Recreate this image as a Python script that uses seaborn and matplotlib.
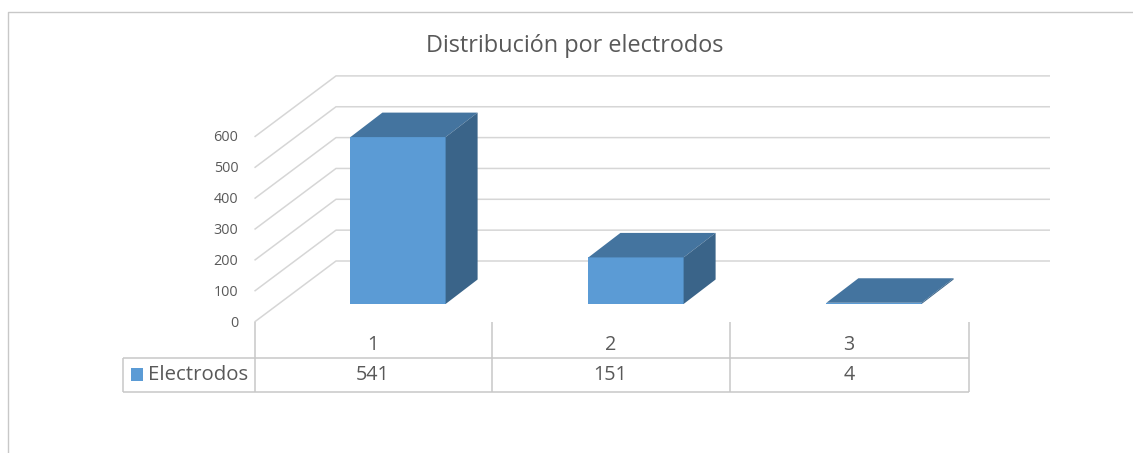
import matplotlib
matplotlib.use("Agg")
import matplotlib.pyplot as plt
from matplotlib.lines import Line2D
from matplotlib.patches import Polygon, Rectangle
from matplotlib.transforms import Affine2D
import pandas as pd
import seaborn as sns

# Chart content
title = "Distribución por electrodos"
series_name = "Electrodos"
categories = ["1", "2", "3"]
electrodos = [541, 151, 4]
y_ticks = [0, 100, 200, 300, 400, 500, 600]

# Colours
FRONT = "#5B9BD5"
TOP = "#44749F"
SIDE = "#3A6489"
GRID = "#D6D6D6"
FRAME = "#C8C8C8"
TEXT = "#595959"

# Layout in pixels
W, H = 1133, 453
PX_PER_UNIT = 30.85 / 100
SLOT = 238.0
BAR_BASE_Y = 304.0
BAR_FIRST_X = 398.0
WALL_FRONT_X, WALL_FRONT_Y = 254.5, 322.0
WALL_DX, WALL_DY = 81.5, -61.0
GRID_END_X = 1050.0
BAR_DX, BAR_DY = 32.0, -24.5
TABLE_LEFT, TABLE_TOP, TABLE_BOTTOM = 122.5, 357.5, 391.5
TABLE_COLS = [254.5, 492.0, 730.0, 968.5]

sns.set_theme(style="white")
plt.rcParams["font.family"] = ["Open Sans", "DejaVu Sans"]

fig = plt.figure(figsize=(W / 100, H / 100), dpi=100, facecolor="white")
ax = fig.add_axes([0, 0, 1, 1])
px = Affine2D().scale(1 / W, -1 / H).translate(0, 1) + fig.transFigure

# The bar axes is aligned so that category 0 and value 0 land on the first bar's base
data = pd.DataFrame({"electrodo": categories, "valor": electrodos})
sns.barplot(data=data, x="electrodo", y="valor", order=categories, color=FRONT,
            saturation=1, width=0.4, ax=ax, zorder=3, linewidth=0)
ax.set_xlim(-BAR_FIRST_X / SLOT, (W - BAR_FIRST_X) / SLOT)
ax.set_ylim((BAR_BASE_Y - H) / PX_PER_UNIT, BAR_BASE_Y / PX_PER_UNIT)
ax.set_axis_off()


def line(xs, ys, color=GRID, lw=1.1, z=1):
    ax.add_line(Line2D(xs, ys, color=color, lw=lw, transform=px, clip_on=False,
                       zorder=z, solid_capstyle="butt"))


# Outer chart frame
line([7.5, 7.5, W], [H, 11.5, 11.5], color=FRAME, lw=1.0)

# Floor and wall gridlines, one per tick
for tick in y_ticks:
    y = WALL_FRONT_Y - tick * PX_PER_UNIT
    line([WALL_FRONT_X, WALL_FRONT_X + WALL_DX, GRID_END_X], [y, y + WALL_DY, y + WALL_DY])
    ax.text(238.5, y + 1.5 - tick / 600, str(tick), transform=px, ha="right", va="center",
            fontsize=10.4, color=TEXT)

# Top and side faces of each bar, extruded from the bar's front face
dx = BAR_DX / SLOT
dy = -BAR_DY / PX_PER_UNIT
for bar in ax.patches[:len(electrodos)]:
    x0, w, h = bar.get_x(), bar.get_width(), bar.get_height()
    x1 = x0 + w
    ax.add_patch(Polygon([(x0, h), (x1, h), (x1 + dx, h + dy), (x0 + dx, h + dy)],
                         closed=True, facecolor=TOP, edgecolor="none", zorder=4))
    ax.add_patch(Polygon([(x1, 0), (x1 + dx, dy), (x1 + dx, h + dy), (x1, h)],
                         closed=True, facecolor=SIDE, edgecolor="none", zorder=4))

# Data table under the plot
line([TABLE_LEFT, TABLE_COLS[-1]], [TABLE_TOP, TABLE_TOP], color=FRAME)
line([TABLE_LEFT, TABLE_COLS[-1]], [TABLE_BOTTOM, TABLE_BOTTOM], color=FRAME)
line([TABLE_LEFT, TABLE_LEFT], [TABLE_TOP, TABLE_BOTTOM], color=FRAME)
for col in TABLE_COLS:
    line([col, col], [WALL_FRONT_Y, TABLE_BOTTOM], color=FRAME)

for i, (cat, val) in enumerate(zip(categories, electrodos)):
    cx = (TABLE_COLS[i] + TABLE_COLS[i + 1]) / 2 - 0.5
    ax.text(cx, 345, cat, transform=px, ha="center", va="center", fontsize=14.2, color=TEXT)
    ax.text(cx, 375.5, str(val), transform=px, ha="center", va="center", fontsize=14.2, color=TEXT)

ax.add_patch(Rectangle((130.5, 368), 12.5, 12.5, facecolor=FRONT, edgecolor="none",
                       transform=px, clip_on=False, zorder=3))
ax.text(148.5, 375.5, series_name, transform=px, ha="left", va="center",
        fontsize=14.7, color=TEXT)

ax.text(575, 46.5, title, transform=px, ha="center", va="center", fontsize=16.9, color=TEXT)

fig.savefig("out.png", dpi=100, facecolor="white")
